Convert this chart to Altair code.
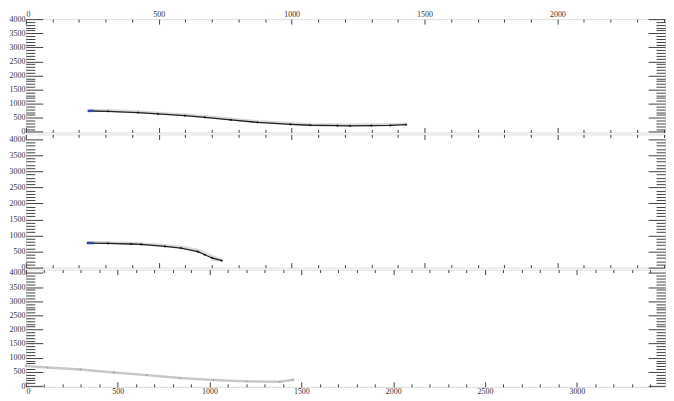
import altair as alt
import pandas as pd

# ---- data ----
top_x = [238, 309, 422, 497, 598, 673, 771, 872, 996, 1071, 1172, 1220, 1300, 1371, 1431]
top_y = [740, 730, 685, 635, 575, 515, 425, 335, 265, 235, 220, 215, 220, 230, 255]
top_gray_y = [770, 760, 715, 665, 605, 545, 455, 365, 295, 265, 250, 245, 250, 260, 280]
top_blue_x = [232, 256]
top_blue_y = [745, 745]

mid_x = [232, 309, 396, 434, 523, 584, 647, 673, 700, 737]
mid_y = [766, 752, 735, 722, 660, 610, 500, 400, 300, 215]
mid_gray_x = [232, 309, 396, 523, 584, 647, 700, 737, 700]
mid_gray_y = [790, 776, 758, 690, 640, 540, 350, 240, 255]
mid_blue_x = [232, 256]
mid_blue_y = [766, 766]

bot_x = [0, 118, 298, 479, 660, 841, 1022, 1202, 1383, 1456]
bot_y = [712, 656, 586, 481, 386, 281, 211, 165, 151, 221]

top_scale_labels = [0, 500, 1000, 1500, 2000]
bot_scale_labels = [0, 500, 1000, 1500, 2000, 2500, 3000]
y_labels = [0, 500, 1000, 1500, 2000, 2500, 3000, 3500, 4000]

FONT = "Liberation Serif"
TICK = "#444444"


def df_of(xs, ys):
    return pd.DataFrame({"x": xs, "y": ys, "o": list(range(len(xs)))})


def yaxis(orient, major):
    vals = y_labels if major else [v for v in range(0, 4001, 100) if v % 500]
    size = 17 if major else 9
    kw = dict(orient=orient, values=vals, tickSize=size, offset=-size, domain=False,
              grid=False, title=None, tickColor=TICK, tickWidth=1)
    if orient == "left" and major:
        kw.update(labels=True, labelFont=FONT, labelFontSize=8, labelColor="#333333",
                  labelPadding=1, format="d")
    else:
        kw.update(labels=False)
    return alt.Axis(**kw)


def xaxis(orient, major, xmax, show_labels):
    if major:
        vals = list(range(0, int(xmax) + 1, 500))
    else:
        vals = [v for v in range(0, int(xmax) + 1, 100) if v % 500]
    size = 5 if major else 3
    kw = dict(orient=orient, values=vals, tickSize=size, offset=-size, domain=False,
              grid=False, title=None, tickColor=TICK, tickWidth=1)
    if major and show_labels:
        kw.update(labels=True, labelFont=FONT, labelFontSize=8, labelColor="#333333",
                  labelPadding=1, labelOverlap=False, format="d")
    else:
        kw.update(labels=False)
    return alt.Axis(**kw)


def panel(main, gray, blue, xdom, ydom, h, top_lab, bot_lab, dark=True):
    xs = alt.Scale(domain=xdom, nice=False, zero=False)
    ys = alt.Scale(domain=ydom, nice=False, zero=False)
    layers = []
    combos = [("left", True, "top", True), ("left", False, "top", False),
              ("right", True, "bottom", True), ("right", False, "bottom", False)]
    for yo, ymaj, xo, xmaj in combos:
        show = (xo == "top" and top_lab) or (xo == "bottom" and bot_lab)
        layers.append(
            alt.Chart(main).mark_point(opacity=0).encode(
                x=alt.X("x:Q", scale=xs, axis=xaxis(xo, xmaj, xdom[1], show)),
                y=alt.Y("y:Q", scale=ys, axis=yaxis(yo, ymaj)),
            )
        )
    noax_x = alt.X("x:Q", scale=xs, axis=None)
    noax_y = alt.Y("y:Q", scale=ys, axis=None)
    if gray is not None:
        layers.append(alt.Chart(gray).mark_line(color="#d9d9d9", strokeWidth=3).encode(
            x=noax_x, y=noax_y, order="o:Q"))
    col = "#222222" if dark else "#c8c8c8"
    layers.append(alt.Chart(main).mark_line(color=col, strokeWidth=1.3 if dark else 2.5).encode(
        x=noax_x, y=noax_y, order="o:Q"))
    layers.append(alt.Chart(main).mark_point(filled=True, size=5,
                                             color="#000000" if dark else "#9a9a9a").encode(
        x=noax_x, y=noax_y))
    if blue is not None:
        layers.append(alt.Chart(blue).mark_line(color="#2b4ea8", strokeWidth=2.5).encode(
            x=noax_x, y=noax_y, order="o:Q"))
    return alt.layer(*layers).resolve_axis(x="independent", y="independent").properties(
        width=643, height=h)


p_top = panel(df_of(top_x, top_y), df_of(top_x, top_gray_y), df_of(top_blue_x, top_blue_y),
              [0, 2405], [-20, 4000], 114, True, False)
p_mid = panel(df_of(mid_x, mid_y), df_of(mid_gray_x, mid_gray_y), df_of(mid_blue_x, mid_blue_y),
              [0, 2405], [0, 4150], 134, False, False)
p_bot = panel(df_of(bot_x, bot_y), None, None,
              [0, 3480], [-30, 4120], 118, False, True, dark=False)

chart = alt.vconcat(p_top, p_mid, p_bot, spacing=2, bounds="flush").properties(
    padding={"left": 0, "top": 0, "right": 0, "bottom": 0}
).configure_view(stroke="#333333", strokeWidth=1.5).configure(background="white")

chart.save("out.html", embed_options={"renderer": "svg", "actions": False})
